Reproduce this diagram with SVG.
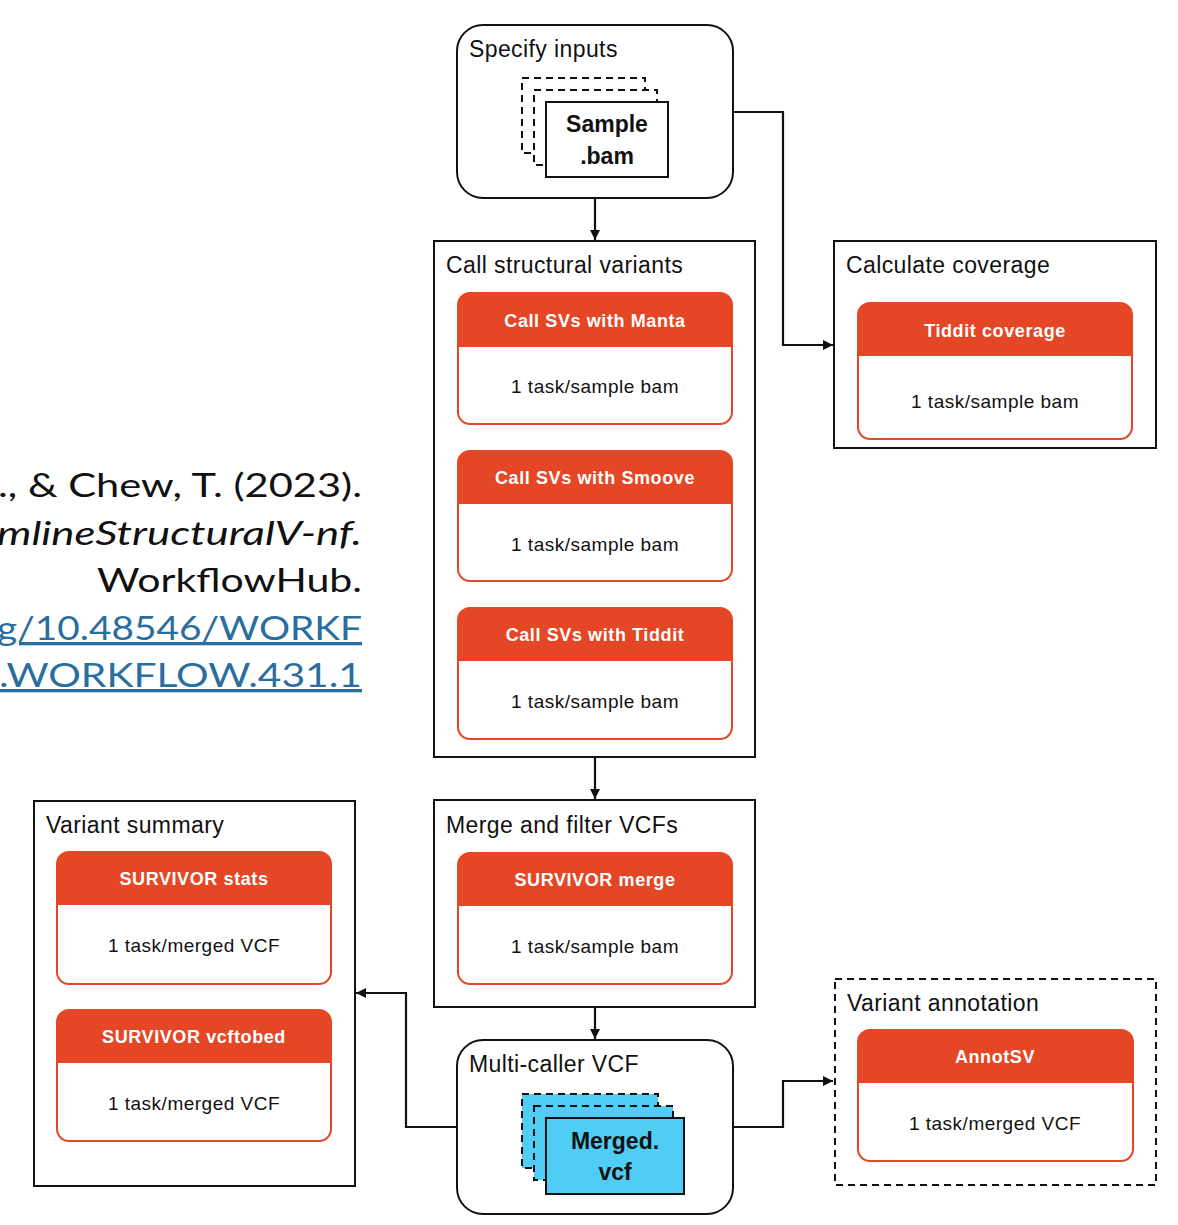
<svg xmlns="http://www.w3.org/2000/svg" width="1178" height="1225" viewBox="0 0 1178 1225">
<defs>
<style>
.title{font-family:"Liberation Sans",Arial,sans-serif;font-size:23px;fill:#111;letter-spacing:0.4px}
.hdr{font-family:"Liberation Sans",Arial,sans-serif;font-size:18px;font-weight:bold;fill:#fff;text-anchor:middle;letter-spacing:0.6px}
.body{font-family:"Liberation Sans",Arial,sans-serif;font-size:19px;fill:#111;text-anchor:middle;letter-spacing:0.5px}
.doc{font-family:"Liberation Sans",Arial,sans-serif;font-size:23px;font-weight:bold;fill:#111;text-anchor:middle}
.box{fill:#fff;stroke:#111;stroke-width:2}
.dbox{fill:#fff;stroke:#111;stroke-width:2;stroke-dasharray:7 5}
.cardbg{fill:#fff}
.cardhd{fill:#E54726}
.cardln{fill:none;stroke:#E54726;stroke-width:2}
.conn{fill:none;stroke:#111;stroke-width:2.2}
.cite{font-family:"Lato","Open Sans",sans-serif;font-size:33px;fill:#111}
.link{fill:#2A6EA0;text-decoration:underline}
</style>
<marker id="arr" viewBox="0 0 10 10" refX="10" refY="5" markerWidth="10" markerHeight="10" markerUnits="userSpaceOnUse" orient="auto">
<path d="M0,0 L10,5 L0,10 Z" fill="#111"/>
</marker>
</defs>
<rect width="1178" height="1225" fill="#fff"/>

<g id="citation">
<text class="cite" x="-2" y="497" textLength="364" lengthAdjust="spacingAndGlyphs">., &amp; Chew, T. (2023).</text>
<text class="cite" x="-3" y="545" textLength="365" lengthAdjust="spacingAndGlyphs" font-style="italic">mlineStructuralV-nf.</text>
<text class="cite" x="97" y="592" textLength="265" lengthAdjust="spacingAndGlyphs">WorkflowHub.</text>
<text class="cite link" x="-3" y="640" textLength="365" lengthAdjust="spacingAndGlyphs">g/10.48546/WORKF</text>
<text class="cite link" x="-1" y="687" textLength="363" lengthAdjust="spacingAndGlyphs">.WORKFLOW.431.1</text>
</g>

<g id="connectors">
<path class="conn" d="M595,198 V240" marker-end="url(#arr)"/>
<path class="conn" d="M733,112 H783 V345 H833" marker-end="url(#arr)"/>
<path class="conn" d="M595,757 V799" marker-end="url(#arr)"/>
<path class="conn" d="M595,1007 V1039" marker-end="url(#arr)"/>
<path class="conn" d="M457,1127 H406 V993 H356" marker-end="url(#arr)"/>
<path class="conn" d="M733,1127 H783 V1081 H833" marker-end="url(#arr)"/>
</g>

<g id="specify-inputs">
<rect class="box" x="457" y="25" width="276" height="173" rx="26"/>
<text class="title" x="469" y="57">Specify inputs</text>
<rect class="dbox" x="522" y="78" width="123" height="75"/>
<rect class="dbox" x="534" y="90" width="123" height="75"/>
<rect class="box" x="546" y="102" width="122" height="75"/>
<text class="doc" x="607" y="132">Sample</text>
<text class="doc" x="607" y="164">.bam</text>
</g>

<g id="call-sv">
<rect class="box" x="434" y="241" width="321" height="516"/>
<text class="title" x="446" y="273">Call structural variants</text>
<g id="manta">
<rect class="cardbg" x="458" y="293" width="274" height="131" rx="12"/>
<path class="cardhd" d="M458,347 V305 A12,12 0 0 1 470,293 H720 A12,12 0 0 1 732,305 V347 Z"/>
<rect class="cardln" x="458" y="293" width="274" height="131" rx="12"/>
<text class="hdr" x="595" y="327">Call SVs with Manta</text>
<text class="body" x="595" y="393">1 task/sample bam</text>
</g>
<g id="smoove">
<rect class="cardbg" x="458" y="451" width="274" height="130" rx="12"/>
<path class="cardhd" d="M458,504 V463 A12,12 0 0 1 470,451 H720 A12,12 0 0 1 732,463 V504 Z"/>
<rect class="cardln" x="458" y="451" width="274" height="130" rx="12"/>
<text class="hdr" x="595" y="484">Call SVs with Smoove</text>
<text class="body" x="595" y="551">1 task/sample bam</text>
</g>
<g id="tiddit">
<rect class="cardbg" x="458" y="608" width="274" height="131" rx="12"/>
<path class="cardhd" d="M458,661 V620 A12,12 0 0 1 470,608 H720 A12,12 0 0 1 732,620 V661 Z"/>
<rect class="cardln" x="458" y="608" width="274" height="131" rx="12"/>
<text class="hdr" x="595" y="641">Call SVs with Tiddit</text>
<text class="body" x="595" y="708">1 task/sample bam</text>
</g>
</g>

<g id="calculate-coverage">
<rect class="box" x="834" y="241" width="322" height="207"/>
<text class="title" x="846" y="273">Calculate coverage</text>
<rect class="cardbg" x="858" y="303" width="274" height="136" rx="12"/>
<path class="cardhd" d="M858,356 V315 A12,12 0 0 1 870,303 H1120 A12,12 0 0 1 1132,315 V356 Z"/>
<rect class="cardln" x="858" y="303" width="274" height="136" rx="12"/>
<text class="hdr" x="995" y="337">Tiddit coverage</text>
<text class="body" x="995" y="408">1 task/sample bam</text>
</g>

<g id="merge-filter">
<rect class="box" x="434" y="800" width="321" height="207"/>
<text class="title" x="446" y="833">Merge and filter VCFs</text>
<rect class="cardbg" x="458" y="853" width="274" height="131" rx="12"/>
<path class="cardhd" d="M458,906 V865 A12,12 0 0 1 470,853 H720 A12,12 0 0 1 732,865 V906 Z"/>
<rect class="cardln" x="458" y="853" width="274" height="131" rx="12"/>
<text class="hdr" x="595" y="886">SURVIVOR merge</text>
<text class="body" x="595" y="953">1 task/sample bam</text>
</g>

<g id="multi-caller">
<rect class="box" x="457" y="1040" width="276" height="174" rx="26"/>
<text class="title" x="469" y="1072">Multi-caller VCF</text>
<rect class="dbox" x="522" y="1094" width="136" height="74" style="fill:#50CDF5"/>
<rect class="dbox" x="534" y="1106" width="139" height="74" style="fill:#50CDF5"/>
<rect class="box" x="546" y="1118" width="138" height="76" style="fill:#50CDF5"/>
<text class="doc" x="615" y="1149">Merged.</text>
<text class="doc" x="615" y="1180">vcf</text>
</g>

<g id="variant-summary">
<rect class="box" x="34" y="801" width="321" height="385"/>
<text class="title" x="46" y="833">Variant summary</text>
<g id="stats">
<rect class="cardbg" x="57" y="852" width="274" height="132" rx="12"/>
<path class="cardhd" d="M57,905 V864 A12,12 0 0 1 69,852 H319 A12,12 0 0 1 331,864 V905 Z"/>
<rect class="cardln" x="57" y="852" width="274" height="132" rx="12"/>
<text class="hdr" x="194" y="885">SURVIVOR stats</text>
<text class="body" x="194" y="952">1 task/merged VCF</text>
</g>
<g id="vcftobed">
<rect class="cardbg" x="57" y="1010" width="274" height="131" rx="12"/>
<path class="cardhd" d="M57,1063 V1022 A12,12 0 0 1 69,1010 H319 A12,12 0 0 1 331,1022 V1063 Z"/>
<rect class="cardln" x="57" y="1010" width="274" height="131" rx="12"/>
<text class="hdr" x="194" y="1043">SURVIVOR vcftobed</text>
<text class="body" x="194" y="1110">1 task/merged VCF</text>
</g>
</g>

<g id="variant-annotation">
<rect class="dbox" x="835" y="979" width="321" height="206"/>
<text class="title" x="847" y="1011">Variant annotation</text>
<rect class="cardbg" x="858" y="1030" width="275" height="131" rx="12"/>
<path class="cardhd" d="M858,1083 V1042 A12,12 0 0 1 870,1030 H1121 A12,12 0 0 1 1133,1042 V1083 Z"/>
<rect class="cardln" x="858" y="1030" width="275" height="131" rx="12"/>
<text class="hdr" x="995" y="1063">AnnotSV</text>
<text class="body" x="995" y="1130">1 task/merged VCF</text>
</g>
</svg>
